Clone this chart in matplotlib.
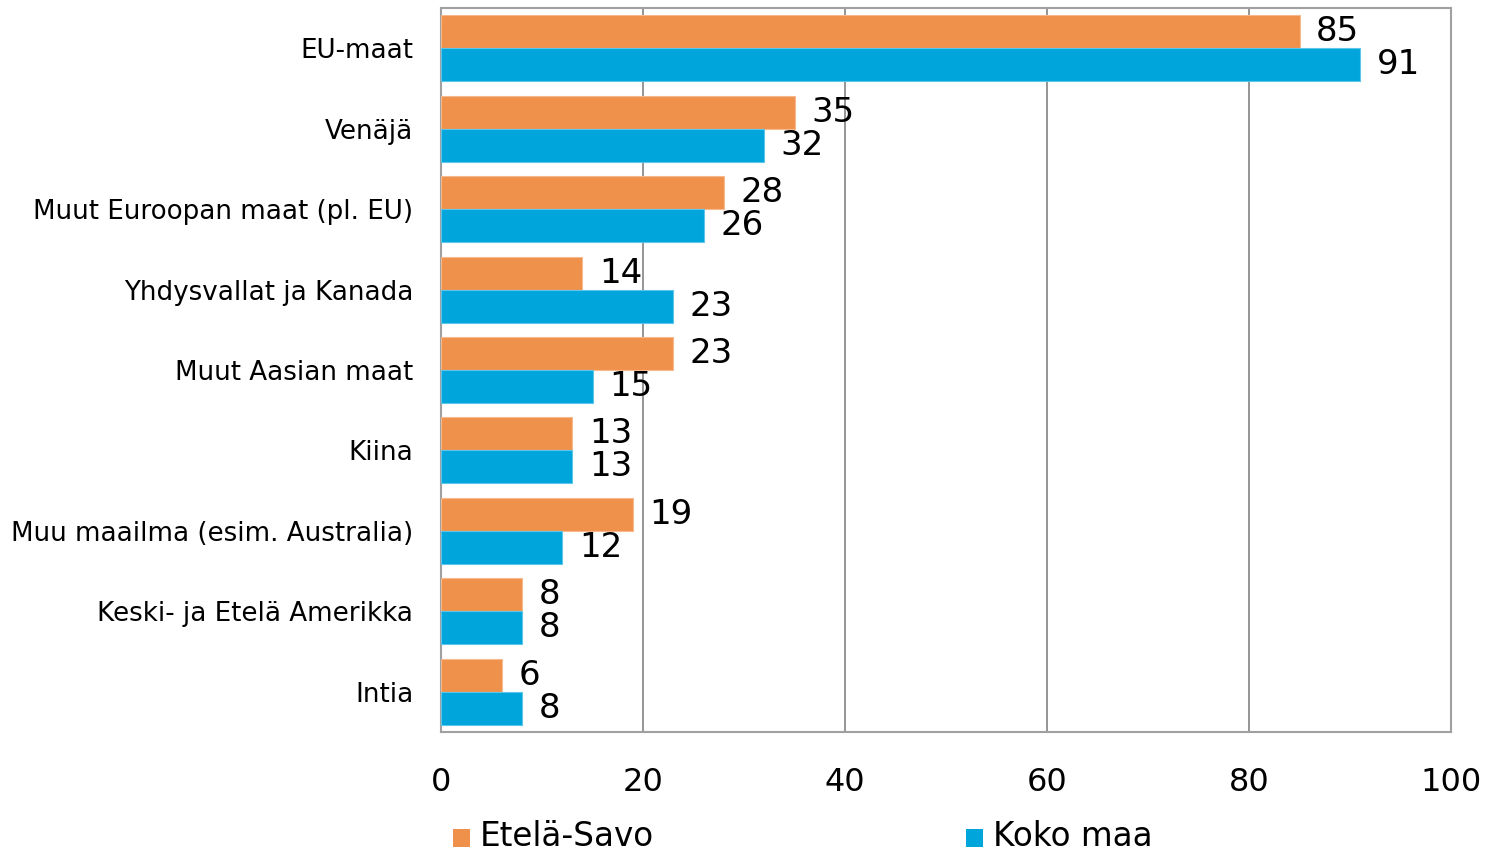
import matplotlib
matplotlib.use("Agg")
import matplotlib.pyplot as plt
from matplotlib.patches import Rectangle
import numpy as np

categories = ["EU-maat", "Venäjä", "Muut Euroopan maat (pl. EU)", "Yhdysvallat ja Kanada",
              "Muut Aasian maat", "Kiina", "Muu maailma (esim. Australia)",
              "Keski- ja Etelä Amerikka", "Intia"]
etela_savo = [85, 35, 28, 14, 23, 13, 19, 8, 6]
koko_maa = [91, 32, 26, 23, 15, 13, 12, 8, 8]
series_names = ["Etelä-Savo", "Koko maa"]
colors = ["#F0914B", "#00A5DB"]
xticks = [0, 20, 40, 60, 80, 100]

plt.rcParams['font.family'] = ['DejaVu Sans']

fig = plt.figure(figsize=(14.95, 8.51), dpi=100)
W, H = 1495, 851
ax = fig.add_axes([441 / W, 1 - 732 / H, (1451 - 441) / W, (732 - 8) / H])

n = len(categories)
y = np.arange(n)
h = 0.41
b1 = ax.barh(y - h / 2, etela_savo, height=h, color=colors[0], edgecolor="#F6B98E", linewidth=0.8, zorder=3)
b2 = ax.barh(y + h / 2, koko_maa, height=h, color=colors[1], edgecolor="#5CC6EA", linewidth=0.8, zorder=3)

for bars, vals in ((b1, etela_savo), (b2, koko_maa)):
    for rect, v in zip(bars, vals):
        ax.annotate(str(v), (rect.get_width(), rect.get_y() + rect.get_height() / 2),
                    xytext=(12, 0), textcoords="offset points", va="center", ha="left",
                    fontsize=24.5, color="black", zorder=4)

ax.set_xlim(0, 100)
ax.set_ylim(n - 0.5, -0.5)
ax.set_xticks(xticks)
ax.set_xticklabels([str(t) for t in xticks], fontsize=23)
ax.set_yticks(y)
ax.set_yticklabels(categories, fontsize=18.8)
ax.tick_params(axis="x", length=0, pad=25)
ax.tick_params(axis="y", length=0, pad=20)
ax.grid(axis="x", color="#8C8C8C", linewidth=1.3, zorder=0)
for s in ax.spines.values():
    s.set_color("#A0A0A0")
    s.set_linewidth(1.5)

# legend
leg_x = [453, 966]
for name, c, lx in zip(series_names, colors, leg_x):
    fig.patches.append(Rectangle((lx / W, 1 - 847 / H), 17 / W, 18 / H, transform=fig.transFigure,
                                 facecolor=c, edgecolor="none"))
    fig.text((lx + 27) / W, 1 - 836 / H, name, fontsize=23.5, va="center", ha="left")

fig.savefig("out.png", dpi=100)
